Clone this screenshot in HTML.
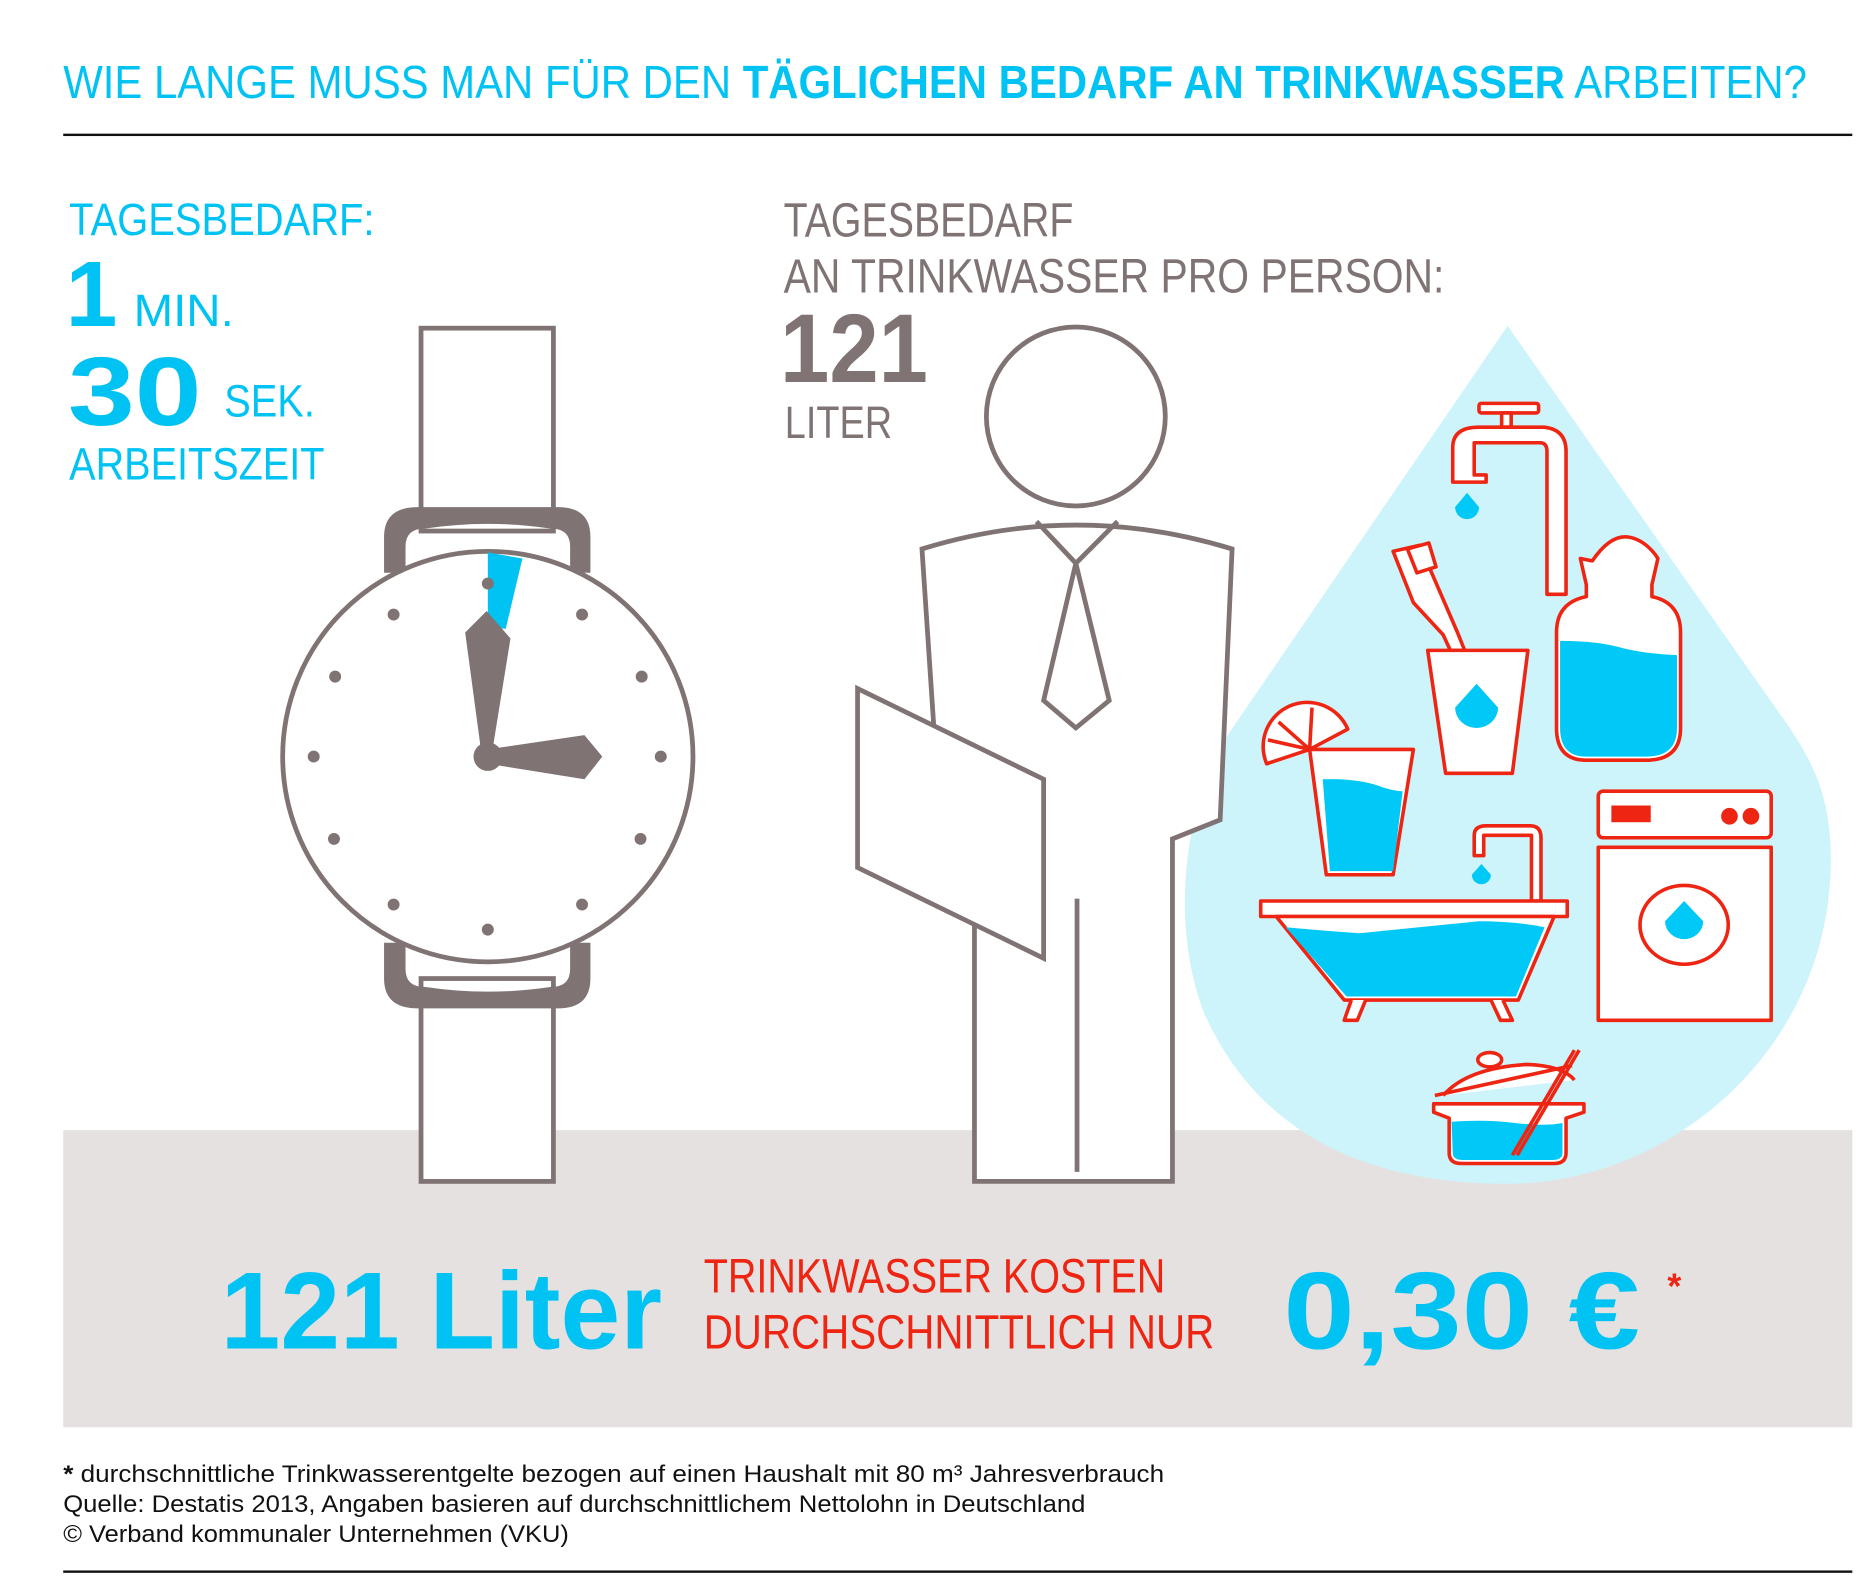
<!DOCTYPE html>
<html><head><meta charset="utf-8"><style>
html,body{margin:0;padding:0;background:#fff;}
svg{display:block;}
text{font-family:"Liberation Sans Narrow","Liberation Sans",sans-serif;}
</style></head><body>
<svg width="1869" height="1580" viewBox="0 0 1567 1324" preserveAspectRatio="none" xmlns="http://www.w3.org/2000/svg">
<rect width="1567" height="1324" fill="#fff"/>
<text x="53" y="82" font-size="39" fill="#00c3f3" textLength="1462" lengthAdjust="spacingAndGlyphs">WIE LANGE MUSS MAN FÜR DEN <tspan font-weight="bold">TÄGLICHEN BEDARF AN TRINKWASSER</tspan> ARBEITEN?</text>
<rect x="53" y="112" width="1500" height="2" fill="#111"/>

<rect x="53" y="947" width="1500" height="249" fill="#e5e1e1"/>

<path d="M1264,273 L1030,615 C990,680 982,780 1010,850 C1060,960 1160,992 1264,992 C1400,992 1535,880 1535,720 C1535,660 1515,630 1490,595 Z" fill="#cdf3fb"/>

<text x="58" y="197" font-size="38" fill="#00c3f3" textLength="256" lengthAdjust="spacingAndGlyphs">TAGESBEDARF:</text>
<text x="55" y="273" font-size="78" font-weight="bold" fill="#00c3f3" font-family="Liberation Sans">1</text>
<text x="112" y="273" font-size="38" fill="#00c3f3" textLength="84" lengthAdjust="spacingAndGlyphs">MIN.</text>
<text x="57" y="356" font-size="82" font-weight="bold" fill="#00c3f3" font-family="Liberation Sans" textLength="112" lengthAdjust="spacingAndGlyphs">30</text>
<text x="188" y="349" font-size="38" fill="#00c3f3" textLength="76" lengthAdjust="spacingAndGlyphs">SEK.</text>
<text x="58" y="402" font-size="38" fill="#00c3f3" textLength="214" lengthAdjust="spacingAndGlyphs">ARBEITSZEIT</text>

<text x="657" y="198" font-size="40" fill="#7f7473" textLength="243" lengthAdjust="spacingAndGlyphs">TAGESBEDARF</text>
<text x="657" y="245" font-size="40" fill="#7f7473" textLength="554" lengthAdjust="spacingAndGlyphs">AN TRINKWASSER PRO PERSON:</text>
<text x="654" y="320" font-size="82" font-weight="bold" fill="#7f7473" font-family="Liberation Sans" textLength="124" lengthAdjust="spacingAndGlyphs">121</text>
<text x="658" y="367" font-size="38" fill="#7f7473" textLength="90" lengthAdjust="spacingAndGlyphs">LITER</text>

<g stroke="#7f7473" stroke-width="4" fill="#fff">
<rect x="353" y="275" width="111" height="170"/>
<rect x="353" y="820" width="111" height="170"/>
</g>
<path d="M322,480 L322,450 Q322,425 350,425 L468,425 Q495,425 495,450 L495,480 L478,480 L478,458 Q478,443 462,443 Q409,435 356,443 Q340,443 340,458 L340,480 Z" fill="#7f7473"/>
<path d="M322,790 L322,820 Q322,845 350,845 L468,845 Q495,845 495,820 L495,790 L478,790 L478,812 Q478,827 462,827 Q409,835 356,827 Q340,827 340,812 L340,790 Z" fill="#7f7473"/>
<circle cx="409" cy="634" r="172" fill="#fff" stroke="#7f7473" stroke-width="4"/>
<path d="M409,463 L438,468 L424,527 L409,525 Z" fill="#00c3f3"/>
<g fill="#7f7473">
<circle cx="409" cy="489" r="5"/><circle cx="488" cy="515" r="5"/><circle cx="538" cy="567" r="5"/><circle cx="554" cy="634" r="5"/>
<circle cx="537" cy="703" r="5"/><circle cx="488" cy="758" r="5"/><circle cx="409" cy="779" r="5"/><circle cx="330" cy="758" r="5"/>
<circle cx="280" cy="703" r="5"/><circle cx="263" cy="634" r="5"/><circle cx="281" cy="567" r="5"/><circle cx="330" cy="515" r="5"/>
<path d="M390,530 L408,512 L428,535 L412,634 L404,634 Z"/>
<path d="M409,628 L490,616 L505,634 L490,653 L409,640 Z"/>
<circle cx="409" cy="634" r="12"/>
</g>

<g stroke="#7f7473" stroke-width="4" fill="#fff" stroke-linejoin="miter">
<circle cx="902" cy="349" r="75"/>
<path d="M773,460 Q902,420 1033,460 L1023,687 L983,703 L983,990 L817,990 L817,775 L783,610 Z"/>
<polyline points="869,437 902,472 937,437" fill="none"/>
<path d="M902,472 L930,587 L902,610 L875,587 Z"/>
<line x1="903" y1="753" x2="903" y2="982"/>
<path d="M719,577 L875,653 L875,803 L719,727 Z"/>
</g>

<g stroke="#ee2512" stroke-width="3" fill="#fff" stroke-linejoin="round">
<rect x="1240" y="338" width="50" height="8" rx="2"/>
<rect x="1259" y="346" width="8" height="12"/>
<path d="M1218,404 L1218,375 Q1218,358 1240,358 L1295,358 Q1313,360 1313,378 L1313,498 L1297,498 L1297,378 Q1297,371 1291,371 L1236,371 L1236,398 L1246,398 L1246,404 Z"/>
<path d="M1168,462 L1190,457 L1196,470 L1222,530 L1228,545 L1216,545 L1210,532 L1185,505 Z"/>
<path d="M1180,460 L1198,455 L1204,475 L1188,480 Z" fill="#fff"/>
<path d="M1197,545 L1281,545 L1268,648 L1212,648 Z"/>
<path d="M1335,470 Q1350,448 1365,450 Q1378,452 1388,465 L1390,468 L1385,490 L1385,500 Q1409,505 1409,530 L1409,610 Q1409,637 1380,637 L1330,637 Q1305,637 1305,610 L1305,530 Q1305,505 1330,500 L1330,490 L1325,468 Z"/>
<path d="M1062,640 A35,35 0 0 1 1130,611 L1098,628 Z"/>
<path d="M1098,628 L1185,628 L1168,733 L1112,733 Z"/>
<path d="M1236,717 L1236,700 Q1236,692 1246,692 L1283,692 Q1292,692 1292,702 L1292,755 L1284,755 L1284,700 L1244,700 L1244,717 Z"/>
<rect x="1057" y="755" width="257" height="13"/>
<path d="M1070,768 L1303,768 L1273,838 L1127,838 Z"/>
<path d="M1133,838 L1127,855 L1138,855 L1145,838"/>
<path d="M1250,838 L1258,855 L1268,855 L1260,838"/>
<rect x="1340" y="663" width="145" height="39" rx="4"/>
<rect x="1340" y="710" width="145" height="145"/>
<ellipse cx="1412" cy="775" rx="37" ry="33"/>
<path d="M1210,918 Q1230,895 1280,892 Q1310,893 1320,905"/>
<path d="M1202,925 L1328,925 L1328,932 L1313,937 L1313,966 Q1313,975 1303,975 L1225,975 Q1215,975 1215,966 L1215,937 L1202,932 Z"/>
<ellipse cx="1249" cy="888" rx="10" ry="6"/>
</g>
<g fill="#ee2512">
<rect x="1351" y="675" width="33" height="14"/>
<circle cx="1450" cy="684" r="7"/><circle cx="1468" cy="684" r="7"/>
</g>
<g fill="#00c8f7">
<path d="M1109,653 Q1140,652 1160,660 Q1170,663 1176,663 L1168,730 L1115,730 Z"/>
<path d="M1308,537 Q1340,537 1360,543 Q1380,548 1406,549 L1406,610 Q1406,634 1380,634 L1330,634 Q1308,634 1308,610 Z"/>
<path d="M1078,777 Q1110,780 1140,782 Q1200,776 1240,772 Q1270,772 1295,777 L1271,835 L1129,835 Z"/>
<path d="M1217,940 Q1245,938 1270,941 Q1295,944 1310,941 L1310,966 Q1310,972 1302,972 L1226,972 Q1218,972 1218,966 Z"/>
<path d="M1230,413 L1220,425 A10,10 0 1 0 1240,425 Z"/>
<path d="M1238,573 L1220,593 A18,17 0 1 0 1256,593 Z"/>
<path d="M1412,755 L1396,772 A16,15 0 1 0 1428,772 Z"/>
<path d="M1242,724 L1234,733 A8,8 0 1 0 1250,733 Z"/>
</g>
<g stroke="#ee2512" stroke-width="3" fill="none">
<line x1="1203" y1="918" x2="1318" y2="893"/>
<line x1="1268" y1="968" x2="1320" y2="880"/>
<line x1="1272" y1="968" x2="1324" y2="880"/>
<line x1="1098" y1="628" x2="1072" y2="605"/>
<line x1="1098" y1="628" x2="1100" y2="593"/>
<line x1="1098" y1="628" x2="1063" y2="620"/>
</g>

<text x="185" y="1130" font-size="92" font-weight="bold" fill="#00c3f3" font-family="Liberation Sans" textLength="370" lengthAdjust="spacingAndGlyphs">121 Liter</text>
<text x="590" y="1083" font-size="40" fill="#ee2512" textLength="387" lengthAdjust="spacingAndGlyphs">TRINKWASSER KOSTEN</text>
<text x="590" y="1130" font-size="40" fill="#ee2512" textLength="428" lengthAdjust="spacingAndGlyphs">DURCHSCHNITTLICH NUR</text>
<text x="1076" y="1130" font-size="92" font-weight="bold" fill="#00c3f3" font-family="Liberation Sans" textLength="299" lengthAdjust="spacingAndGlyphs">0,30 €</text>
<text x="1398" y="1088" font-size="30" font-weight="bold" fill="#ee2512" font-family="Liberation Sans">*</text>

<g font-size="20" fill="#111">
<text x="53" y="1242" textLength="923" lengthAdjust="spacingAndGlyphs"><tspan font-weight="bold">*</tspan> durchschnittliche Trinkwasserentgelte bezogen auf einen Haushalt mit 80 m³ Jahresverbrauch</text>
<text x="53" y="1267" textLength="857" lengthAdjust="spacingAndGlyphs">Quelle: Destatis 2013, Angaben basieren auf durchschnittlichem Nettolohn in Deutschland</text>
<text x="53" y="1292" textLength="424" lengthAdjust="spacingAndGlyphs">© Verband kommunaler Unternehmen (VKU)</text>
</g>
<rect x="53" y="1316" width="1500" height="2" fill="#111"/>
</svg>
</body></html>
